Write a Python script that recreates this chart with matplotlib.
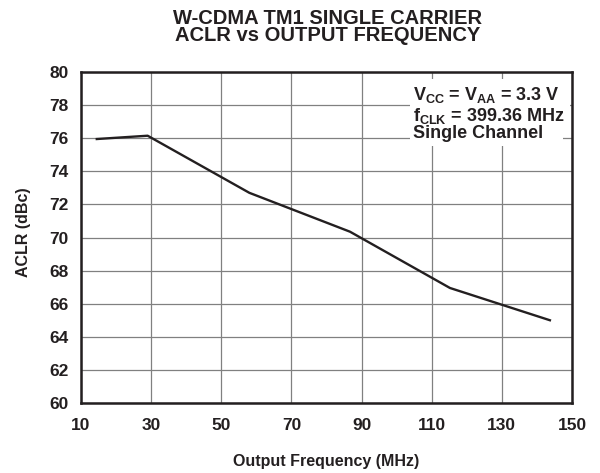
import matplotlib
matplotlib.use("Agg")
import matplotlib.pyplot as plt
from matplotlib.patches import Rectangle

plt.rcParams['font.family'] = ['Liberation Sans', 'DejaVu Sans']
plt.rcParams['mathtext.fontset'] = 'custom'
plt.rcParams['mathtext.rm'] = 'Liberation Sans:bold'
plt.rcParams['mathtext.it'] = 'Liberation Sans:bold'
plt.rcParams['mathtext.bf'] = 'Liberation Sans:bold'

freq_mhz = [14.5, 29.0, 58.0, 86.7, 115.2, 143.7]
aclr_dbc = [75.95, 76.15, 72.7, 70.35, 66.95, 65.0]
x_ticks = [10, 30, 50, 70, 90, 110, 130, 150]
y_ticks = [60, 62, 64, 66, 68, 70, 72, 74, 76, 78, 80]
title_lines = ["W-CDMA TM1 SINGLE CARRIER", "ACLR vs OUTPUT FREQUENCY"]
notes = [r"V$_{CC}$ = V$_{AA}$ = 3.3 V", r"f$_{CLK}$ = 399.36 MHz", "Single Channel"]

dark = '#231f20'
W, H = 600, 473
fig = plt.figure(figsize=(6.0, 4.73), dpi=100)
ax = fig.add_axes([81 / W, 1 - 403 / H, 491 / W, 331 / H])
ax.plot(freq_mhz, aclr_dbc, color=dark, lw=1.7, zorder=3)
ax.set_xlim(10, 150)
ax.set_ylim(60, 80)
ax.set_xticks(x_ticks)
ax.set_yticks(y_ticks)
ax.grid(True, color='#808080', lw=0.9, zorder=0)
ax.set_axisbelow(True)
for s in ax.spines.values():
    s.set_linewidth(1.8)
    s.set_color(dark)
    s.set_zorder(6)
ax.tick_params(axis='x', length=0, labelsize=12.5, pad=11, colors=dark)
ax.tick_params(axis='y', length=0, labelsize=12.5, pad=9, colors=dark)
for lab in ax.get_xticklabels() + ax.get_yticklabels():
    lab.set_fontweight('bold')

fig.text(326 / W, 1 - 461 / H, "Output Frequency (MHz)", ha='center', va='center',
         fontsize=11.5, fontweight='bold', color=dark)
fig.text(24 / W, 1 - 232 / H, "ACLR (dBc)", ha='center', va='center', rotation=90,
         fontsize=11.5, fontweight='bold', color=dark)

fig.text(328 / W, 1 - 27 / H, "\n".join(title_lines), ha='center', va='center', fontsize=14.5,
         fontweight='bold', color=dark, linespacing=0.88)

# white background behind the annotation block (covers the grid there)
for (x0, y0, x1, y1) in [(410, 79, 570, 125), (410, 125, 563, 146)]:
    fig.patches.append(Rectangle((x0 / W, 1 - y1 / H), (x1 - x0) / W, (y1 - y0) / H,
                                 transform=fig.transFigure, facecolor='white',
                                 edgecolor='none', zorder=4))

baselines = [100, 121, 138]
for t, yp in zip(notes, baselines):
    fig.text(413 / W, 1 - yp / H, t, ha='left', va='baseline', fontsize=13, fontweight='bold',
             color=dark, zorder=5)

fig.savefig("out.png", dpi=100)
